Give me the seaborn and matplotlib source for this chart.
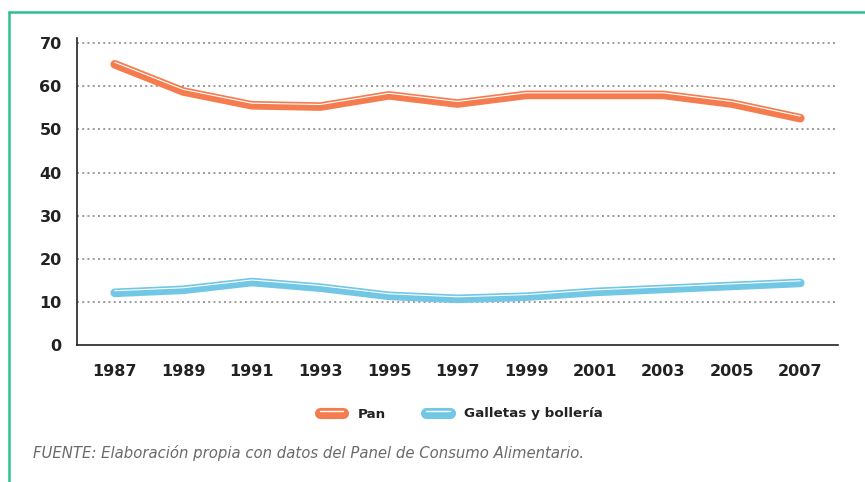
import pandas as pd
import matplotlib.pyplot as plt
import matplotlib.patheffects as pe
from matplotlib.lines import Line2D
import seaborn as sns

# Data
years = [1987, 1989, 1991, 1993, 1995, 1997, 1999, 2001, 2003, 2005, 2007]
pan = [65.1, 58.8, 55.6, 55.3, 57.9, 56.0, 58.0, 58.0, 58.0, 56.0, 52.6]
galletas = [12.1, 12.8, 14.6, 13.3, 11.4, 10.7, 11.2, 12.3, 13.0, 13.7, 14.4]
series_names = ["Pan", "Galletas y bollería"]
colors = ["#F47C4E", "#72C7E5"]

df = pd.DataFrame({
    "year": years * 2,
    "value": pan + galletas,
    "serie": [series_names[0]] * len(years) + [series_names[1]] * len(years),
})

sns.set_theme(style="white")
plt.rcParams["font.family"] = ["DejaVu Sans"]

fig = plt.figure(figsize=(8.65, 4.82), dpi=100)
ax = fig.add_axes([77 / 865, 1 - 345 / 482, (838 - 77) / 865, (345 - 38) / 482])

sns.lineplot(data=df, x="year", y="value", hue="serie", palette=colors,
             linewidth=6, legend=False, ax=ax, zorder=3)

# thick tube-like lines with a light highlight along the top edge
for line, c in zip(ax.lines, colors):
    line.set_solid_capstyle("round")
    line.set_solid_joinstyle("round")
    line.set_path_effects([
        pe.Stroke(linewidth=6.2, foreground=c),
        pe.Stroke(linewidth=0.8, foreground="white", offset=(0, 1.5)),
    ])

ax.set_ylim(0, 71.2)
ax.set_xlim(years[0] - 1.1, years[-1] + 1.1)
ax.set_yticks(range(0, 71, 10))
ax.set_xticks(years)
ax.set_xlabel("")
ax.set_ylabel("")

for v in range(10, 71, 10):
    ax.axhline(v, color="#9a9a9a", lw=1.4, ls=(0, (1, 1.7)), zorder=1)

for s in ["top", "right"]:
    ax.spines[s].set_visible(False)
for s in ["left", "bottom"]:
    ax.spines[s].set_color("#222222")
    ax.spines[s].set_linewidth(1.2)

ax.tick_params(axis="both", length=0, labelsize=11.5, colors="#222222")
ax.tick_params(axis="y", pad=11)
ax.tick_params(axis="x", pad=13.5)
for lab in ax.get_xticklabels() + ax.get_yticklabels():
    lab.set_fontweight("bold")

# legend
handles = []
for c in colors:
    h = Line2D([0], [0], color=c, lw=8, solid_capstyle="round",
               path_effects=[pe.Stroke(linewidth=8, foreground=c),
                             pe.Stroke(linewidth=1.0, foreground="white", offset=(0, 1.6))])
    handles.append(h)
leg = fig.legend(handles, series_names, loc="center", bbox_to_anchor=(0.533, 1 - 414 / 482),
                 ncol=2, frameon=False, handlelength=1.75, columnspacing=3.0,
                 handletextpad=1.05, prop={"weight": "bold", "size": 9.7})
for t in leg.get_texts():
    t.set_color("#222222")

# source note
fig.text(33 / 865, 1 - 453 / 482,
         "FUENTE: Elaboración propia con datos del Panel de Consumo Alimentario.",
         fontsize=10.7, style="italic", color="#6a6a6a", va="center")

# green frame
green = "#2EBF94"
fig.add_artist(Line2D([9 / 865, 1], [1 - 12 / 482, 1 - 12 / 482], color=green, lw=1.8,
                      transform=fig.transFigure))
fig.add_artist(Line2D([9 / 865, 9 / 865], [1 - 12 / 482, 0], color=green, lw=1.8,
                      transform=fig.transFigure))

fig.savefig("out.png", dpi=100, facecolor="white")
